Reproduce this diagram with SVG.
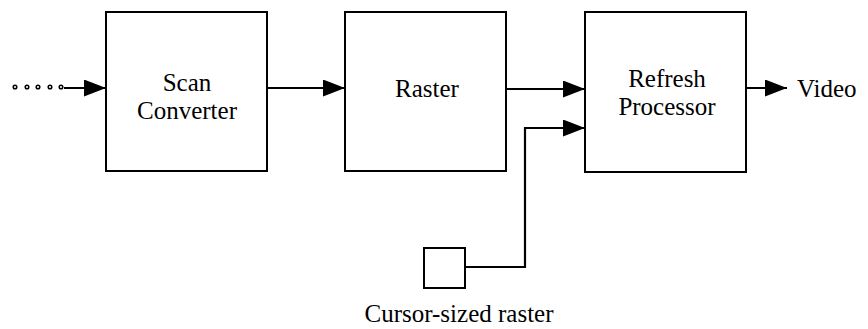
<svg xmlns="http://www.w3.org/2000/svg" width="868" height="329" viewBox="0 0 868 329">
<style>
.box{fill:#fff;stroke:#000;stroke-width:2}
.ln{fill:none;stroke:#000;stroke-width:2.2}
.t{font-family:"Liberation Serif","Times New Roman",serif;font-size:25px;fill:#000}
.c{text-anchor:middle}
</style>
<defs>
<marker id="ah" markerUnits="userSpaceOnUse" markerWidth="24" markerHeight="18" refX="22" refY="8.5" orient="auto">
<path d="M0,0 L22,8.5 L0,17 Z" fill="#000"/>
</marker>
</defs>
<rect width="868" height="329" fill="#fff"/>
<g id="connectors">
<g fill="#fff" stroke="#000" stroke-width="1.5">
<circle cx="15" cy="87" r="1.8"/>
<circle cx="27" cy="87" r="1.8"/>
<circle cx="38" cy="87" r="1.8"/>
<circle cx="50" cy="87" r="1.8"/>
<circle cx="61" cy="87" r="1.8"/>
</g>
<path class="ln" d="M64,88 H106" marker-end="url(#ah)"/>
<path class="ln" d="M267,88 H345" marker-end="url(#ah)"/>
<path class="ln" d="M506,89 H585" marker-end="url(#ah)"/>
<path class="ln" d="M465,267 H525 V128 H585" marker-end="url(#ah)"/>
<path class="ln" d="M746,88 H787" marker-end="url(#ah)"/>
</g>
<g id="scan-converter">
<rect class="box" x="106" y="12" width="161" height="159"/>
<text class="t c" x="187" y="91">Scan</text>
<text class="t c" x="187" y="119">Converter</text>
</g>
<g id="raster">
<rect class="box" x="345" y="12" width="161" height="159"/>
<text class="t c" x="427" y="97">Raster</text>
</g>
<g id="refresh-processor">
<rect class="box" x="585" y="12" width="161" height="160"/>
<text class="t c" x="667" y="87">Refresh</text>
<text class="t c" x="667" y="115">Processor</text>
</g>
<g id="video">
<text class="t" x="797" y="97">Video</text>
</g>
<g id="cursor-raster">
<rect class="box" x="424" y="248" width="41" height="40"/>
<text class="t c" x="459" y="322">Cursor-sized raster</text>
</g>
</svg>
